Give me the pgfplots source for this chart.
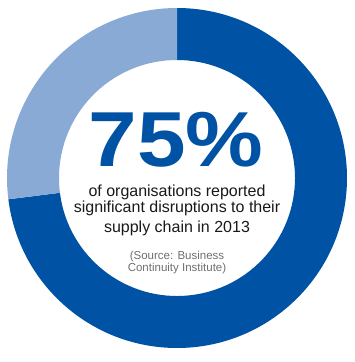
\documentclass[border=0pt]{standalone}
\usepackage{pgfplots}
\pgfplotsset{compat=1.18}
\usepackage{pgfplotstable}
\usepackage{fontspec}
\setmainfont{Liberation Sans}
\definecolor{dk}{RGB}{0,82,165}
\definecolor{lt}{RGB}{138,170,214}
\definecolor{src}{RGB}{110,110,110}
\pgfplotstableread{
label value
Reported 73
Other 27
}\slices
\pgfplotstablegetelem{0}{value}\of\slices \let\vDark\pgfplotsretval
\pgfplotstablegetelem{1}{value}\of\slices \let\vLight\pgfplotsretval
\begin{document}
\begin{tikzpicture}
\begin{axis}[hide axis, scale only axis, width=355pt, height=362pt,
  xmin=0, xmax=355, ymin=0, ymax=362, clip=false]
\addplot[draw=none] coordinates {(0,0) (355,362)};
\coordinate (C) at (axis cs:177,184);
\pgfmathsetmacro{\eA}{90-3.6*\vDark}
\fill[dk] ([shift={(90:170pt)}]C) arc[start angle=90, end angle=\eA, radius=170pt]
   -- ([shift={(\eA:118pt)}]C) arc[start angle=\eA, end angle=90, radius=118pt] -- cycle;
\fill[lt] ([shift={(90:170pt)}]C) arc[start angle=90, end angle=\eA+360, radius=170pt]
   -- ([shift={(\eA+360:118pt)}]C) arc[start angle=\eA+360, end angle=90, radius=118pt] -- cycle;
\node[dk, inner sep=0pt] at (axis cs:176,222) {\scalebox{1.12}[1]{\fontsize{78}{78}\selectfont\bfseries 75\%}};
\node[anchor=base, inner sep=0pt, text=black!90] at (axis cs:177,165) {\fontsize{16}{16}\selectfont of organisations reported};
\node[anchor=base, inner sep=0pt, text=black!90] at (axis cs:177,149) {\fontsize{16}{16}\selectfont significant disruptions to their};
\node[anchor=base, inner sep=0pt, text=black!90] at (axis cs:177,129) {\fontsize{16}{16}\selectfont supply chain in 2013};
\node[anchor=base, inner sep=0pt, text=src] at (axis cs:177,102) {\fontsize{11.5}{11.5}\selectfont (Source: Business};
\node[anchor=base, inner sep=0pt, text=src] at (axis cs:177,90) {\fontsize{11.5}{11.5}\selectfont Continuity Institute)};
\end{axis}
\end{tikzpicture}
\end{document}
